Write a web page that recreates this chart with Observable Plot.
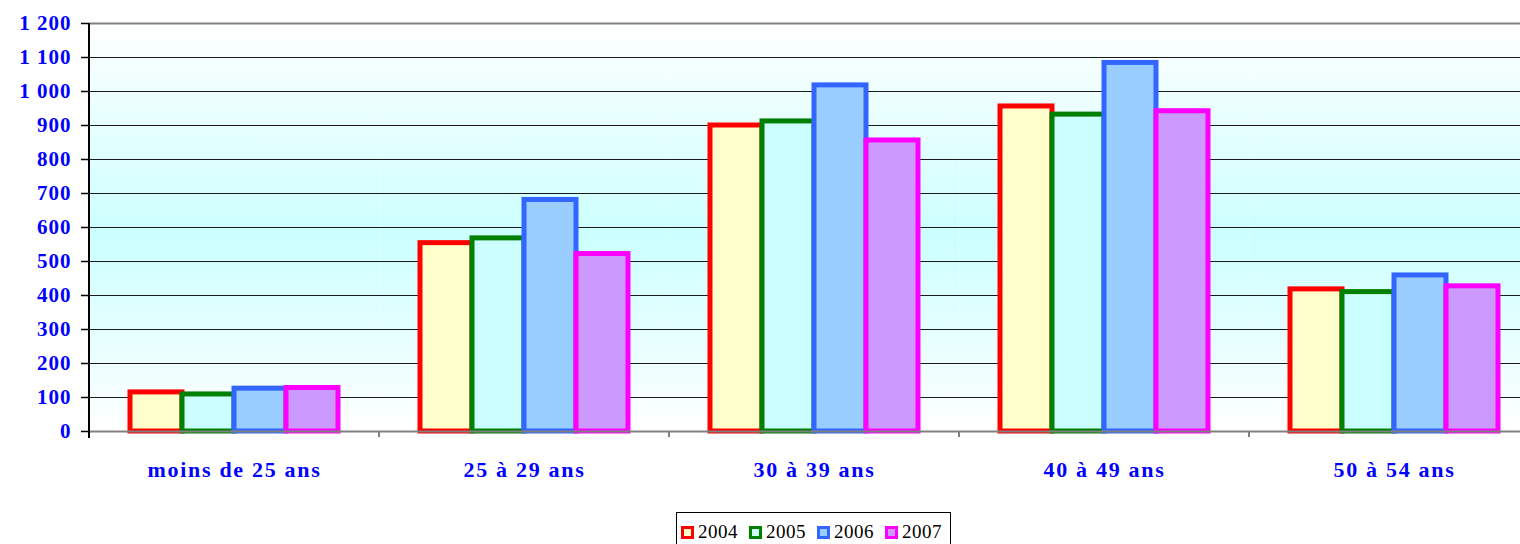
<!DOCTYPE html>
<html>
<head>
<meta charset="utf-8">
<script src="https://cdn.jsdelivr.net/npm/d3@7"></script>
<script src="https://cdn.jsdelivr.net/npm/@observablehq/plot@0.6"></script>
<style>
  html, body { margin: 0; padding: 0; background: #fff; overflow: hidden; }
  #wrap { position: relative; width: 1520px; height: 544px; overflow: hidden; }
  #legend { position: absolute; left: 676px; top: 512px; width: 275px; height: 40px;
    border: 1px solid #000; box-sizing: border-box; font-family: "Liberation Serif", serif;
    font-size: 19px; color: #000; display: flex; align-items: flex-start; padding: 8px 0 0 4px; }
  .item { display: flex; align-items: center; margin-right: 11px; letter-spacing: 0.5px; }
  .sw { width: 13px; height: 13px; box-sizing: border-box; border: 3px solid; margin-right: 4px; }
</style>
</head>
<body>
<div id="wrap"><div id="chart"></div><div id="legend"></div></div>
<script>
const groups = ["moins de 25 ans", "25 à 29 ans", "30 à 39 ans", "40 à 49 ans", "50 à 54 ans"];
const years = ["2004", "2005", "2006", "2007"];
const v2004 = [115, 554, 900, 956, 418];
const v2005 = [109, 568, 912, 932, 410];
const v2006 = [126, 681, 1018, 1084, 459];
const v2007 = [128, 522, 856, 942, 427];
const yTicks = [0, 100, 200, 300, 400, 500, 600, 700, 800, 900, 1000, 1100, 1200];
const strokeColors = ["#ff0000", "#008000", "#3366ff", "#ff00ff"];
const fillColors = ["#ffffcc", "#ccffff", "#99ccff", "#cc99ff"];

const series = [v2004, v2005, v2006, v2007];
const rows = series.map((vals, i) => vals.map((v, j) => ({group: groups[j], year: years[i], value: v})));

const NS = "http://www.w3.org/2000/svg";
function el(tag, attrs) {
  const e = document.createElementNS(NS, tag);
  for (const k in attrs) e.setAttribute(k, attrs[k]);
  return e;
}

const fontFam = "Liberation Serif, Times New Roman, serif";

const chart = Plot.plot({
  width: 1540,
  height: 500,
  marginLeft: 88,
  marginRight: 0,
  marginTop: 23,
  marginBottom: 69,
  style: {maxWidth: "none", overflow: "visible", background: "transparent"},
  fx: {domain: groups, padding: 0, label: null},
  x: {domain: years, paddingInner: 0, paddingOuter: 0.767, axis: null},
  y: {domain: [0, 1200], label: null},
  marks: [
    Plot.frame({fill: "url(#bgGrad)", stroke: null}),
    Plot.gridY(yTicks.slice(1, -1), {stroke: "#1a1a1a", strokeOpacity: 1, strokeWidth: 1}),
    Plot.ruleY([1200], {stroke: "#808080", strokeWidth: 2}),
    ...rows.map((r, i) => Plot.barY(r, {fx: "group", x: "year", y: "value",
      fill: fillColors[i], stroke: strokeColors[i], strokeWidth: 5})),
    Plot.ruleY([0], {stroke: "#808080", strokeWidth: 2}),
    Plot.axisY(yTicks, {tickSize: 8, tickPadding: 10, stroke: "#000", strokeWidth: 1.5, fill: "#0000ff",
      fontSize: 21, fontWeight: "bold", fontFamily: fontFam, label: null,
      tickFormat: d => d3.format(",")(d).replace(/,/g, "\u00a0")}),
    Plot.axisFx({anchor: "bottom", tickSize: 0, tickPadding: 30, fill: "#0000ff",
      fontSize: 22, fontWeight: "bold", fontFamily: fontFam, label: null})
  ]
});

// gradient definition for the plot background
const defs = el("defs", {});
const lg = el("linearGradient", {id: "bgGrad", x1: 0, y1: 0, x2: 0, y2: 1});
[["0%", "#ffffff"], ["52%", "#ccffff"], ["100%", "#ffffff"]].forEach(([o, c]) =>
  lg.appendChild(el("stop", {offset: o, "stop-color": c})));
defs.appendChild(lg);
chart.insertBefore(defs, chart.firstChild);

// axis letter spacing
chart.querySelectorAll("g[aria-label='y-axis tick label'] text").forEach(t => t.style.letterSpacing = "1px");
chart.querySelectorAll("g[aria-label='fx-axis tick label'] text").forEach(t => t.style.letterSpacing = "1.7px");

// y-axis line and category boundary ticks, positioned with the plot's own scales
const ys = chart.scale("y");
const fxs = chart.scale("fx");
const y0 = ys.apply(0), yTop = ys.apply(1200);
const over = el("g", {});
groups.forEach((gname, i) => {
  const x = fxs.apply(gname);
  if (i > 0) over.appendChild(el("line", {x1: x, x2: x, y1: y0, y2: y0 + 6, stroke: "#808080", "stroke-width": 2}));
});
const xLeft = fxs.apply(groups[0]);
over.appendChild(el("line", {x1: xLeft, x2: xLeft, y1: yTop, y2: y0 + 7, stroke: "#000", "stroke-width": 2}));
chart.appendChild(over);

document.getElementById("chart").appendChild(chart);

const legend = document.getElementById("legend");
years.forEach((yr, i) => {
  const it = document.createElement("div");
  it.className = "item";
  const sw = document.createElement("span");
  sw.className = "sw";
  sw.style.borderColor = strokeColors[i];
  sw.style.background = fillColors[i];
  const tx = document.createElement("span");
  tx.textContent = yr;
  it.appendChild(sw); it.appendChild(tx);
  legend.appendChild(it);
});
</script>
</body>
</html>
